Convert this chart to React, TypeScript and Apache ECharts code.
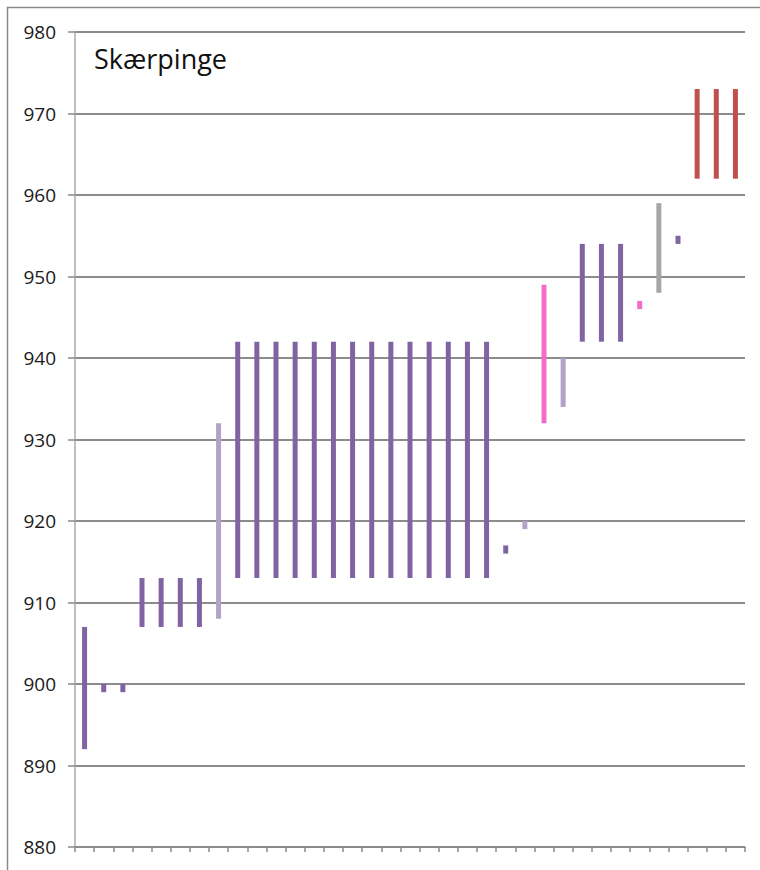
import React, { useEffect, useRef } from "react";
import * as echarts from "echarts";

const categories = Array.from({ length: 35 }, (_, i) => String(i + 1));
const lows = [892, 899, 899, 907, 907, 907, 907, 908, 913, 913, 913, 913, 913, 913, 913, 913, 913, 913, 913, 913, 913, 913, 916, 919, 932, 934, 942, 942, 942, 946, 948, 954, 962, 962, 962];
const highs = [907, 900, 900, 913, 913, 913, 913, 932, 942, 942, 942, 942, 942, 942, 942, 942, 942, 942, 942, 942, 942, 942, 917, 920, 949, 940, 954, 954, 954, 947, 959, 955, 973, 973, 973];
const kinds = ["d", "d", "d", "d", "d", "d", "d", "l", "d", "d", "d", "d", "d", "d", "d", "d", "d", "d", "d", "d", "d", "d", "d", "l", "p", "l", "d", "d", "d", "p", "g", "d", "r", "r", "r"];
const palette: Record<string, string> = { d: "#8064A2", l: "#B3A2C7", p: "#F06EC8", g: "#A6A6A6", r: "#C0504D" };
const yTicks = [880, 890, 900, 910, 920, 930, 940, 950, 960, 970, 980];

export default function App() {
  const ref = useRef<HTMLDivElement>(null);
  useEffect(() => {
    document.body.style.margin = "0";
    const chart = echarts.init(ref.current!, undefined, { renderer: "svg" });
    chart.setOption({
      animation: false,
      backgroundColor: "#fff",
      title: {
        text: "Skærpinge",
        left: 89,
        top: 40,
        textStyle: { fontFamily: "Open Sans", fontSize: 27, fontWeight: "normal", color: "#111" },
      },
      graphic: [
        {
          type: "rect",
          shape: { x: 7.5, y: 7.5, width: 800, height: 900 },
          style: { fill: "none", stroke: "#8a8a8a", lineWidth: 1.5 },
          silent: true,
        },
      ],
      grid: { left: 75, right: 15, top: 32, bottom: 23, containLabel: false },
      xAxis: {
        type: "category",
        data: categories,
        axisLine: { show: true, lineStyle: { color: "#8a8a8a", width: 1.5 } },
        axisTick: { show: true, alignWithLabel: false, length: 5, lineStyle: { color: "#8a8a8a", width: 1.5 } },
        axisLabel: { show: false },
        splitLine: { show: false },
      },
      yAxis: {
        type: "value",
        min: yTicks[0],
        max: yTicks[yTicks.length - 1],
        interval: 10,
        axisLine: { show: true, lineStyle: { color: "#aaaaaa", width: 1.5 } },
        axisTick: { show: true, length: 7, lineStyle: { color: "#8a8a8a", width: 1.5 } },
        axisLabel: { fontFamily: "Open Sans", fontSize: 19, color: "#1a1a1a", margin: 19 },
        splitLine: { show: true, lineStyle: { color: "#8c8c8c", width: 2 } },
      },
      series: [
        {
          type: "bar",
          stack: "r",
          barWidth: 5,
          silent: true,
          itemStyle: { color: "transparent" },
          data: lows,
        },
        {
          type: "bar",
          stack: "r",
          barWidth: 5,
          data: highs.map((h, i) => ({
            value: h - lows[i],
            itemStyle: { color: palette[kinds[i]] },
          })),
        },
      ],
    });
    return () => chart.dispose();
  }, []);
  return <div ref={ref} style={{ width: 760, height: 870 }} />;
}
